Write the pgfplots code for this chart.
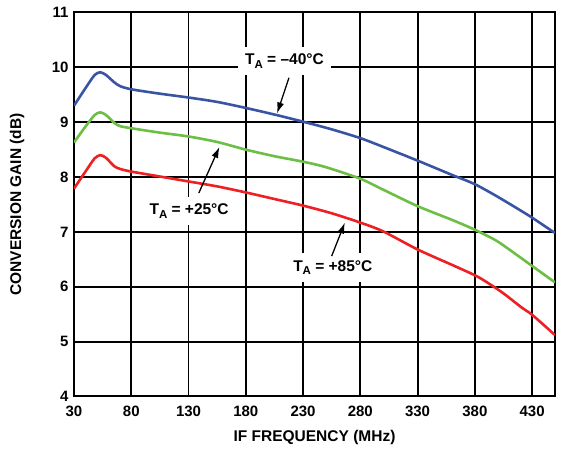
\documentclass[border=0pt]{standalone}
\usepackage{pgfplots}
\pgfplotsset{compat=1.18}
\usepackage{fontspec}
\setmainfont{Liberation Sans}
\usetikzlibrary{arrows.meta}
\definecolor{cblue}{RGB}{58,84,164}
\definecolor{cgreen}{RGB}{108,190,69}
\definecolor{cred}{RGB}{237,32,36}
\newcommand{\TA}{T\raisebox{-0.45ex}{\fontsize{11.5}{12}\selectfont A}}
\begin{document}
\begin{tikzpicture}
\useasboundingbox (-74pt,-57.5pt) rectangle (514pt,396.5pt);
\begin{axis}[
  at={(0,0)}, anchor=south west,
  scale only axis, width=481pt, height=384pt,
  xmin=30, xmax=450, ymin=4, ymax=11,
  xtick={30,80,...,430}, ytick={4,5,...,11},
  xmajorgrids=true, ymajorgrids=true,
  grid style={draw=black, line width=1.9pt},
  axis line style={black, line width=2pt},
  tick style={draw=none},
  tick label style={font=\fontsize{15}{18}\selectfont\bfseries},
  /pgf/number format/assume math mode=true,
  xticklabel style={yshift=-5.5pt},
  yticklabel style={xshift=-2pt},
  label style={font=\fontsize{15.5}{18}\selectfont\bfseries},
  xlabel={IF FREQUENCY (MHz)},
  ylabel={CONVERSION GAIN (dB)},
  xlabel style={at={(axis description cs:0.5,-0.107)}, anchor=center},
  ylabel style={at={(axis description cs:-0.1185,0.5)}, anchor=center},
  every axis plot/.append style={line width=2.6pt, smooth, tension=0.45},
]
\addplot[cblue] coordinates {
(30,9.30)(40,9.62)(48,9.86)(53,9.91)(58,9.86)(65,9.73)(70,9.66)(80,9.60)
(105,9.52)(130,9.45)(155,9.37)(180,9.26)(205,9.14)(230,9.01)(255,8.87)
(280,8.71)(300,8.55)(330,8.30)(360,8.04)(380,7.87)(400,7.64)(420,7.39)
(430,7.26)(450,6.98)};
\addplot[cgreen] coordinates {
(30,8.63)(40,8.92)(48,9.13)(53,9.18)(58,9.13)(65,8.99)(70,8.93)(80,8.89)
(105,8.81)(130,8.74)(155,8.64)(180,8.50)(205,8.38)(230,8.28)(250,8.18)
(280,7.97)(300,7.77)(330,7.47)(360,7.22)(380,7.04)(398,6.85)(410,6.68)
(430,6.38)(450,6.08)};
\addplot[cred] coordinates {
(30,7.79)(40,8.10)(48,8.34)(53,8.40)(58,8.35)(65,8.20)(70,8.15)(80,8.10)
(105,8.01)(130,7.92)(155,7.83)(180,7.72)(205,7.60)(230,7.48)(255,7.34)
(280,7.17)(300,7.01)(330,6.68)(360,6.40)(380,6.21)(390,6.09)(405,5.88)
(421,5.62)(430,5.49)(450,5.12)};
\node[fill=white, inner sep=7pt, font=\fontsize{15.5}{18}\selectfont\bfseries]
  at (axis cs:213.8,10.12) {\TA{} = \textendash40°C};
\node[fill=white, inner sep=7pt, font=\fontsize{15.5}{18}\selectfont\bfseries]
  at (axis cs:130.5,7.38) {\TA{} = +25°C};
\node[fill=white, inner sep=7pt, font=\fontsize{15.5}{18}\selectfont\bfseries]
  at (axis cs:256,6.35) {\TA{} = +85°C};
\draw[-{Latex[length=11pt,width=7pt]}, line width=1.3pt] (axis cs:217.7,9.81) -- (axis cs:207.3,9.16);
\draw[-{Latex[length=11pt,width=7pt]}, line width=1.3pt] (axis cs:139,7.71) -- (axis cs:157,8.55);
\draw[-{Latex[length=11pt,width=7pt]}, line width=1.3pt] (axis cs:255,6.56) -- (axis cs:266.5,7.17);
\node[rotate=90, font=\fontsize{10.5}{12}\selectfont, text=black!75] at (axis description cs:1.0457,-0.076) {07885-016};
\end{axis}
\end{tikzpicture}
\end{document}
